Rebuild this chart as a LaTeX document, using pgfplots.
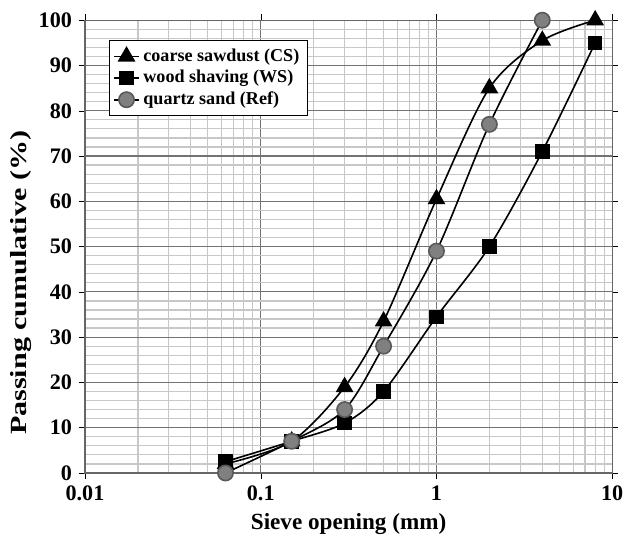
\documentclass[border=0pt]{standalone}
\usepackage{pgfplots}
\usepackage{graphicx}
\pgfplotsset{compat=1.18}
\usepackage{fontspec}
\setmainfont{Liberation Serif}
\begin{document}
\begin{tikzpicture}
\begin{axis}[
  scale only axis,
  width=262pt, height=225pt,
  xmode=log, xmin=0.01, xmax=10,
  ymin=0, ymax=100,
  log basis x=10,
  xtick={0.01,0.1,1,10},
  xticklabels={0.01,0.1,1,10},
  minor xtick={0.02,0.03,0.04,0.05,0.06,0.07,0.08,0.09,0.2,0.3,0.4,0.5,0.6,0.7,0.8,0.9,2,3,4,5,6,7,8,9},
  ytick={0,10,...,100},
  minor ytick={2,4,...,98},
  grid=both,
  major grid style={draw=black!55, line width=0.6pt},
  minor grid style={draw=black!22, line width=0.6pt},
  axis line style={draw=black!60, line width=0.6pt},
  tick align=outside,
  major tick length=3pt,
  minor tick length=0pt,
  tick style={black},
  ticklabel style={font=\bfseries\fontsize{11}{13}\selectfont},
  /pgf/number format/assume math mode=true,
  xlabel={\bfseries Sieve opening (mm)},
  ylabel={\scalebox{1.3}[1]{\bfseries Passing cumulative (\%)}},
  label style={font=\bfseries\fontsize{11.5}{13}\selectfont},
  xlabel style={yshift=1pt},
  ylabel style={at={(ticklabel cs:0.42)}, yshift=-3.5pt},
  legend style={at={(0.046,0.956)}, anchor=north west, draw=black, fill=white,
    font=\bfseries\fontsize{9}{11}\selectfont, row sep=-1pt, inner sep=2pt},
  legend cell align=left,
  legend image code/.code={
    \draw[#1] (0cm,0cm) -- (0.42cm,0cm);
    \draw[#1, mark repeat=1] plot coordinates {(0.21cm,0cm)};
  },
]
\addplot[black, line width=0.8pt, smooth, tension=0.5, mark=triangle*, mark size=4.3pt, mark options={fill=black, solid}]
  coordinates {(0.063,2) (0.15,7) (0.3,19) (0.5,33.5) (1,60.5) (2,85) (4,95.5) (8,100)};
\addlegendentry{coarse sawdust (CS)}
\addplot[black, line width=0.8pt, smooth, tension=0.5, mark=square*, mark size=3.2pt, mark options={fill=black, solid}]
  coordinates {(0.063,2.5) (0.15,7) (0.3,11) (0.5,18) (1,34.5) (2,50) (4,71) (8,95)};
\addlegendentry{wood shaving (WS)}
\addplot[black, line width=0.8pt, smooth, tension=0.5, mark=*, mark size=3.8pt, mark options={fill=black!50, draw=black!65, solid}]
  coordinates {(0.063,0) (0.15,7) (0.3,14) (0.5,28) (1,49) (2,77) (4,100)};
\addlegendentry{quartz sand (Ref)}
\end{axis}
\path ([yshift=3pt]current bounding box.north);
\path ([xshift=-2pt]current bounding box.west);
\end{tikzpicture}
\end{document}
